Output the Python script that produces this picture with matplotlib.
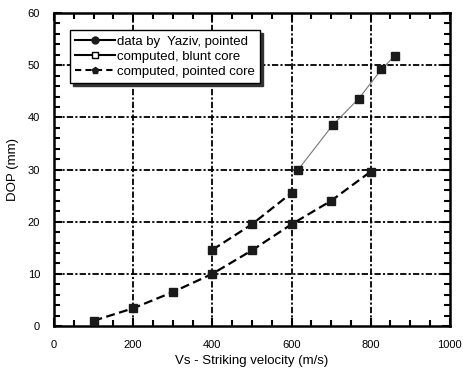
import matplotlib

matplotlib.use("Agg")
import matplotlib.pyplot as plt
from matplotlib.lines import Line2D
from matplotlib.ticker import MultipleLocator

plt.rcParams["font.family"] = ["Liberation Sans", "DejaVu Sans"]

# --- data ---------------------------------------------------------------- #
yaziv_v = [617, 705, 770, 827, 861]
yaziv_dop = [30.0, 38.6, 43.6, 49.2, 51.8]

blunt_v = [400, 500, 600]
blunt_dop = [14.6, 19.5, 25.5]

pointed_v = [100, 200, 300, 400, 500, 600, 700, 800]
pointed_dop = [1.0, 3.4, 6.5, 10.0, 14.5, 19.5, 24.0, 29.6]

fig = plt.figure(figsize=(4.63, 3.73), dpi=100)
ax = fig.add_axes([0.1166, 0.126, 0.855, 0.839])

grid_ls = (0, (3.5, 1.2, 1.2, 1.2))
for gx in range(200, 1000, 200):
    ax.axvline(gx, color="black", ls=grid_ls, lw=1.3, zorder=1)
for gy in range(10, 60, 10):
    ax.axhline(gy, color="black", ls=grid_ls, lw=1.3, zorder=1)

ax.plot(yaziv_v, yaziv_dop, "-", color="#777777", lw=0.8,
        marker="s", ms=6, mfc="#1a1a1a", mec="#1a1a1a", zorder=3)
ax.plot(blunt_v, blunt_dop, ls=(0, (4, 2)), color="black", lw=1.6,
        marker="s", ms=6, mfc="#1a1a1a", mec="#1a1a1a", zorder=3)
ax.plot(pointed_v, pointed_dop, ls=(0, (4, 2)), color="black", lw=1.6,
        marker="s", ms=6, mfc="#1a1a1a", mec="#1a1a1a", zorder=3)

ax.set_xlim(0, 1000)
ax.set_ylim(0, 60)
ax.xaxis.set_major_locator(MultipleLocator(200))
ax.xaxis.set_minor_locator(MultipleLocator(50))
ax.yaxis.set_major_locator(MultipleLocator(10))
ax.yaxis.set_minor_locator(MultipleLocator(2))
ax.tick_params(which="both", direction="in", top=True, right=True,
               labelsize=8, width=1.5, color="black")
ax.tick_params(which="major", length=6, pad=10)
ax.tick_params(which="minor", length=4)
for sp in ax.spines.values():
    sp.set_linewidth(1.8)

ax.set_xlabel("Vs - Striking velocity (m/s)", fontsize=9.5, labelpad=4)
ax.set_ylabel("DOP (mm)", fontsize=9.5, labelpad=6)

handles = [
    Line2D([], [], color="black", lw=1.5, marker="o", ms=5,
           mfc="#1a1a1a", mec="#1a1a1a"),
    Line2D([], [], color="black", lw=1.5, marker="s", ms=5,
           mfc="white", mec="black"),
    Line2D([], [], color="black", lw=1.5, ls=(0, (3, 2)), marker="p", ms=5,
           mfc="#1a1a1a", mec="#1a1a1a"),
]
labels = ["data by  Yaziv, pointed", "computed, blunt core",
          "computed, pointed core"]
leg = ax.legend(handles, labels, loc="upper left",
                bbox_to_anchor=(0.04, 0.945), fontsize=9.5, frameon=True,
                fancybox=False, shadow={"color": "#333333", "alpha": 1.0},
                handlelength=3.0, handletextpad=0.2, borderpad=0.4,
                labelspacing=0.2, borderaxespad=0)
leg.get_frame().set_edgecolor("black")
leg.get_frame().set_linewidth(1.0)
leg.set_zorder(5)

fig.savefig("out.png", dpi=100)
